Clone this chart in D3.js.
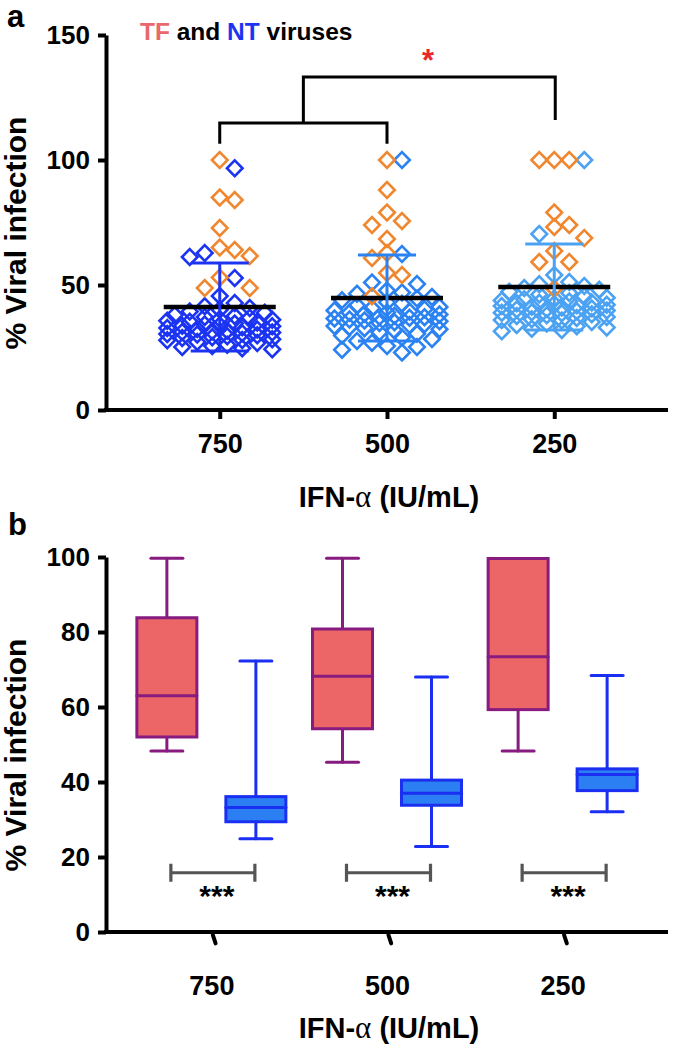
<!DOCTYPE html>
<html><head><meta charset="utf-8">
<script src="https://cdn.jsdelivr.net/npm/d3@7"></script>
<style>
body{margin:0;background:#fff}
svg{display:block}
text{font-family:"Liberation Sans",Arial,Helvetica,sans-serif;font-weight:bold}
</style>
</head><body>
<svg id="chart" width="685" height="1048"></svg>
<script>
// ---------- DATA ----------
const concentrations = ["750", "500", "250"];
// Panel a: individual viruses (% viral infection)
const tf750 = [100, 85, 84, 72.8, 65, 64, 61.6, 53, 48.8, 48.8];
const tf500 = [100, 88, 79, 75.6, 74, 68.4, 62.8, 60.8, 54.8, 54, 45.5];
const tf250 = [100, 100, 100, 79, 74, 73.2, 68.8, 63.6, 59.2, 59.2, 48.5];
const nt750 = [96.7, 62.8, 61.2, 52.8, 45.6, 42.8, 41.5, 40.8, 40.1, 39.4, 38.9, 38.0, 37.6, 36.9, 36.4, 36.1, 35.3, 35.0, 34.6, 34.2, 33.9, 33.5, 33.1, 32.8, 32.4, 32.2, 31.7, 31.5, 31.0, 30.7, 30.2, 29.9, 29.5, 29.1, 28.8, 28.3, 27.9, 27.2, 26.8, 26.1, 25.6, 25.2, 24.7, 24.3, 35.7, 33.7, 31.2, 28.0, 37.2, 30.4];
const nt500 = [100, 62.4, 51.0, 50.4, 47.8, 47.0, 46.5, 45.2, 44.6, 43.9, 43.1, 42.5, 41.8, 41.2, 40.7, 40.3, 39.8, 39.4, 38.9, 38.5, 38.2, 37.7, 37.3, 36.9, 36.6, 36.2, 35.8, 35.5, 35.1, 34.8, 34.3, 34.0, 33.6, 33.2, 32.7, 32.3, 31.8, 31.1, 30.5, 29.8, 29.0, 28.4, 27.6, 26.9, 25.6, 25.2, 24.1, 23.0, 37.1, 39.0];
const nt250 = [100, 70.4, 54.0, 51.2, 50.3, 49.6, 48.8, 48.1, 47.3, 46.8, 46.2, 45.5, 44.9, 44.3, 43.8, 43.4, 43.0, 42.7, 42.4, 42.1, 41.9, 41.6, 41.3, 41.0, 40.6, 40.2, 39.8, 39.5, 39.1, 38.7, 38.3, 37.9, 37.6, 37.2, 36.8, 36.3, 35.8, 35.2, 34.6, 34.0, 33.5, 33.0, 32.5, 32.0, 31.5, 44.6, 42.9, 40.4, 38.9, 36.0];
// Panel a: mean and SD of all viruses
const meanAll = [41.2, 44.8, 49.2];
const sdAll = [17.6, 17.2, 17.2];
const yTicksA = [0, 50, 100, 150];
// Panel b: box plots
const tfMin = [48.3, 45.3, 48.3];
const tfQ1 = [52.0, 54.2, 59.3];
const tfMed = [63.0, 68.2, 73.4];
const tfQ3 = [83.8, 80.8, 99.6];
const tfMax = [99.7, 99.7, 99.6];
const ntMin = [24.9, 22.8, 32.1];
const ntQ1 = [29.4, 33.8, 37.7];
const ntMed = [33.2, 37.0, 42.0];
const ntQ3 = [36.1, 40.5, 43.5];
const ntMax = [72.3, 68.0, 68.4];
const yTicksB = [0, 20, 40, 60, 80, 100];
const sigB = ["***", "***", "***"];

// ---------- SETUP ----------
const svg = d3.select("#chart");
const ntColorsA = ["#1b34f2", "#2b82f2", "#4ca2f2"];
const orange = "#f0872f";
const AX = 106, XR = 668;
const FONT = "Liberation Sans, Arial, sans-serif";

// ================= PANEL A =================
const yA = d3.scaleLinear().domain([0, 150]).range([410, 35]);
const xA = d3.scalePoint().domain(concentrations).range([AX, XR]).padding(0.68);

svg.append("text").attr("x", 7).attr("y", 27).attr("font-size", 31).text("a");

// legend
const leg = svg.append("text").attr("x", 140).attr("y", 40).attr("font-size", 24.5);
leg.append("tspan").attr("fill", "#e9686b").text("TF");
leg.append("tspan").attr("fill", "#000").text(" and ");
leg.append("tspan").attr("fill", "#1b34f2").text("NT");
leg.append("tspan").attr("fill", "#000").text(" viruses");

function styleAxis(g, fs) {
  g.select(".domain").attr("stroke-width", 4).attr("stroke", "#000");
  g.selectAll(".tick line").attr("stroke-width", 4).attr("stroke", "#000");
  g.selectAll(".tick text").attr("font-size", fs).attr("font-family", FONT).attr("font-weight", "bold").attr("fill", "#000");
}

// y axis
const gyA = svg.append("g").attr("transform", `translate(${AX},0)`)
  .call(d3.axisLeft(yA).tickValues(yTicksA).tickSize(8).tickSizeOuter(0).tickPadding(8));
styleAxis(gyA, 26);

// x axis
const gxA = svg.append("g").attr("transform", `translate(0,${yA(0)})`)
  .call(d3.axisBottom(xA).tickSize(9).tickSizeOuter(0).tickPadding(15));
styleAxis(gxA, 27);
gxA.select(".domain").attr("d", `M${AX - 2},0H${XR}`);

// axis titles
function xTitle(yPos) {
  const t = svg.append("text").attr("x", 389).attr("y", yPos).attr("text-anchor", "middle").attr("font-size", 29);
  t.append("tspan").text("IFN-");
  t.append("tspan").attr("font-family", "Liberation Serif, Times New Roman, serif").attr("font-weight", "normal").attr("font-size", 31).text("α");
  t.append("tspan").text(" (IU/mL)");
}
xTitle(507);
svg.append("text").attr("transform", "translate(26,233) rotate(-90)").attr("text-anchor", "middle").attr("font-size", 30).text("% Viral infection");

// swarm layout
function swarm(vals, cx, y, step, maxHalf, size) {
  const placed = [];
  const cands = [0];
  for (let k = 1; k * step <= maxHalf + 0.01; k++) { cands.push(k * step, -k * step); }
  vals.slice().sort((a, b) => b.v - a.v).forEach(p => {
    const py = y(p.v);
    let best = 0, bestCost = Infinity;
    cands.forEach(off => {
      let cost = 0;
      placed.forEach(q => {
        const dx = Math.abs(q.x - (cx + off)), dy = Math.abs(q.y - py);
        if (dx < size && dy < size) cost += (size - dx) * (size - dy);
      });
      cost += Math.abs(off) * 0.6;
      if (cost < bestCost) { bestCost = cost; best = off; }
    });
    placed.push({ ...p, x: cx + best, y: py });
  });
  return placed;
}

const tfAll = [tf750, tf500, tf250];
const ntAll = [nt750, nt500, nt250];
const diamond = "M0,-7.8L7.8,0L0,7.8L-7.8,0Z";
concentrations.forEach((c, i) => {
  const pts = tfAll[i].map(v => ({ v, t: "TF" })).concat(ntAll[i].map(v => ({ v, t: "NT" })));
  const placed = swarm(pts, xA(c), yA, 7.5, 52.5, 14.5);
  const g = svg.append("g");
  g.selectAll("path.nt").data(placed.filter(p => p.t === "NT")).join("path")
    .attr("d", diamond).attr("transform", p => `translate(${p.x},${p.y})`)
    .attr("fill", "none").attr("stroke", ntColorsA[i]).attr("stroke-width", 2.6);
  g.selectAll("path.tf").data(placed.filter(p => p.t === "TF")).join("path")
    .attr("d", diamond).attr("transform", p => `translate(${p.x},${p.y})`)
    .attr("fill", "none").attr("stroke", orange).attr("stroke-width", 2.6);
  // mean line
  g.append("line").attr("x1", xA(c) - 56).attr("x2", xA(c) + 56)
    .attr("y1", yA(meanAll[i])).attr("y2", yA(meanAll[i])).attr("stroke", "#000").attr("stroke-width", 4.5);
  // SD error bar
  const col = ntColorsA[i];
  g.append("line").attr("x1", xA(c)).attr("x2", xA(c))
    .attr("y1", yA(meanAll[i] + sdAll[i])).attr("y2", yA(meanAll[i] - sdAll[i])).attr("stroke", col).attr("stroke-width", 3);
  [meanAll[i] + sdAll[i], meanAll[i] - sdAll[i]].forEach(v => {
    g.append("line").attr("x1", xA(c) - 29).attr("x2", xA(c) + 29)
      .attr("y1", yA(v)).attr("y2", yA(v)).attr("stroke", col).attr("stroke-width", 3);
  });
});

// significance bracket panel a
const x750 = xA("750"), x500 = xA("500"), x250 = xA("250");
const mid = (x750 + x500) / 2;
svg.append("path").attr("fill", "none").attr("stroke", "#000").attr("stroke-width", 3)
  .attr("d", `M${x750},${yA(106.5)}V${yA(114.8)}H${x500}V${yA(106.5)}`);
svg.append("path").attr("fill", "none").attr("stroke", "#000").attr("stroke-width", 3)
  .attr("d", `M${mid},${yA(114.8)}V${yA(133.2)}H${x250 + 1}V${yA(116)}`);
svg.append("text").attr("x", 428).attr("y", 71).attr("text-anchor", "middle").attr("fill", "#e8262b").attr("font-size", 31).text("*");

// ================= PANEL B =================
const yB = d3.scaleLinear().domain([0, 100]).range([932, 557]);
const xB = d3.scalePoint().domain(concentrations).range([AX, XR]).padding(0.6);

svg.append("text").attr("x", 8).attr("y", 535).attr("font-size", 31).text("b");

const gyB = svg.append("g").attr("transform", `translate(${AX},0)`)
  .call(d3.axisLeft(yB).tickValues(yTicksB).tickSize(8).tickSizeOuter(0).tickPadding(8));
styleAxis(gyB, 26);

const gxB = svg.append("g").attr("transform", `translate(0,${yB(0)})`)
  .call(d3.axisBottom(xB).tickSize(12).tickSizeOuter(0).tickPadding(32));
styleAxis(gxB, 27);
gxB.select(".domain").attr("d", `M${AX - 2},0H${XR}`);
gxB.selectAll(".tick line").attr("stroke-linecap", "round").attr("y1", 3).attr("transform", "rotate(-18)");

xTitle(1038);
svg.append("text").attr("transform", "translate(26,755) rotate(-90)").attr("text-anchor", "middle").attr("font-size", 30).text("% Viral infection");

function box(cx, mn, q1, md, q3, mx, fill, stroke, bw, cw) {
  const g = svg.append("g").attr("stroke", stroke).attr("stroke-width", 3).attr("stroke-linecap", "round");
  g.append("line").attr("x1", cx).attr("x2", cx).attr("y1", yB(mx)).attr("y2", yB(mn));
  g.append("line").attr("x1", cx - cw / 2).attr("x2", cx + cw / 2).attr("y1", yB(mx)).attr("y2", yB(mx));
  g.append("line").attr("x1", cx - cw / 2).attr("x2", cx + cw / 2).attr("y1", yB(mn)).attr("y2", yB(mn));
  g.append("rect").attr("x", cx - bw / 2).attr("width", bw).attr("y", yB(q3)).attr("height", yB(q1) - yB(q3))
    .attr("fill", fill).attr("stroke-linecap", "butt");
  g.append("line").attr("x1", cx - bw / 2).attr("x2", cx + bw / 2).attr("y1", yB(md)).attr("y2", yB(md));
}

concentrations.forEach((c, i) => {
  const cx = xB(c);
  const tx = cx - 44.5, nx = cx + 44.5;
  box(tx, tfMin[i], tfQ1[i], tfMed[i], tfQ3[i], tfMax[i], "#ec6667", "#871b7f", 60, 32);
  box(nx, ntMin[i], ntQ1[i], ntMed[i], ntQ3[i], ntMax[i], "#2b7ff2", "#1b2ff2", 60, 32);
  // significance bracket
  const bx1 = tx + 4, bx2 = nx - 1, by = yB(15.8);
  svg.append("path").attr("fill", "none").attr("stroke", "#555").attr("stroke-width", 3.2)
    .attr("d", `M${bx1},${by - 9}V${by + 9}M${bx1},${by}H${bx2}M${bx2},${by - 9}V${by + 9}`);
  svg.append("text").attr("x", (bx1 + bx2) / 2 + 4).attr("y", by + 33).attr("text-anchor", "middle").attr("font-size", 30).text(sigB[i]);
});
</script>
</body></html>
